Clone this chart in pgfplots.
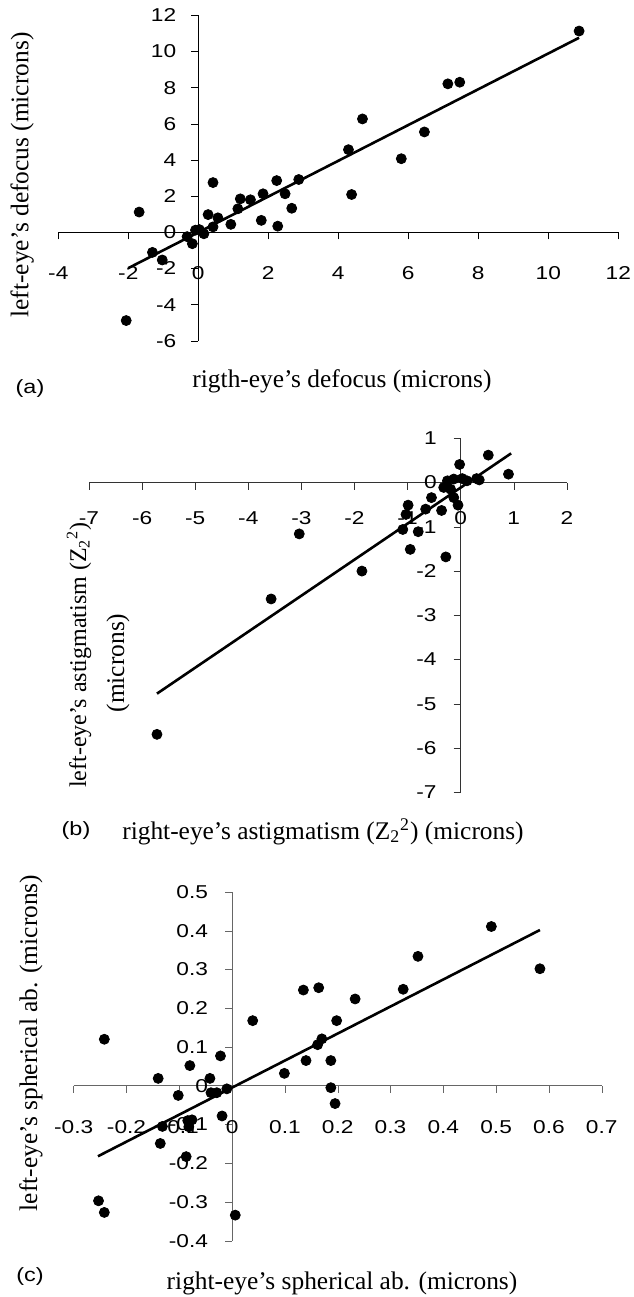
\documentclass[border=0pt]{standalone}
\usepackage{fontspec}
\setmainfont{Liberation Serif}
\newfontfamily\tickfont[FakeStretch=1.22]{Liberation Sans}
\usepackage{pgfplots}
\pgfplotsset{compat=1.18}

\pgfplotsset{
  eyeaxis/.style={
    scale only axis, axis lines=middle,
    axis line style={-, line width=0.5pt},
    tick align=outside, major tick length=3.5pt,
    hide obscured x ticks=false, hide obscured y ticks=false,
    /pgf/number format/assume math mode=true,
    tick label style={font=\tickfont\fontsize{9.3}{10}\selectfont},
    xticklabel style={anchor=center, yshift=-17pt},
    yticklabel style={anchor=east, xshift=-4pt},
    clip=false,
  },
  dots/.style={only marks, mark=*, mark size=2.5pt, black},
  fit/.style={no marks, black, line width=1.3pt},
}
\newcommand{\lab}{\fontsize{12.7}{14}\selectfont}
\newcommand{\tag}{\tickfont\fontsize{9.6}{11}\selectfont}

\begin{document}
\begin{tikzpicture}
\path[use as bounding box] (0,0) rectangle (316.5pt,-648.5pt);

% (a) defocus
\begin{axis}[eyeaxis, at={(29.15pt,-170.4pt)}, anchor=south west,
  width=280pt, height=162.75pt,
  xmin=-4, xmax=12, ymin=-6, ymax=12,
  xtick={-4,-2,0,2,4,6,8,10,12}, ytick={-6,-4,-2,0,2,4,6,8,10,12},
  axis line style={black}, tick style={black}]
\addplot[dots] coordinates {
 (10.88,11.13) (7.13,8.21) (7.47,8.30) (4.69,6.27) (6.46,5.55) (4.29,4.57)
 (5.80,4.07) (4.38,2.09) (0.42,2.75) (2.24,2.86) (2.87,2.92) (1.20,1.85)
 (1.49,1.80) (1.85,2.13) (2.48,2.13) (1.13,1.30) (2.67,1.33) (0.28,0.98)
 (0.56,0.80) (0.93,0.44) (1.80,0.66) (2.27,0.34) (0.42,0.30) (0.03,0.15)
 (-0.08,0.12) (0.16,-0.08) (-0.32,-0.24) (-0.17,-0.63) (-1.31,-1.11)
 (-1.03,-1.53) (-1.69,1.12) (-2.06,-4.88)};
\addplot[fit] coordinates {(-2.0,-1.98) (10.88,10.76)};
\end{axis}
\node[font=\lab, rotate=90, anchor=base] at (14.15pt,-87.5pt) {left-eye's defocus (microns)};
\node[font=\lab] at (171pt,-190.85pt) {rigth-eye's defocus (microns)};
\node[font=\tag] at (15pt,-194.2pt) {(a)};

% (b) astigmatism
\begin{axis}[eyeaxis, at={(44.5pt,-396.15pt)}, anchor=south west,
  width=238.95pt, height=177pt,
  xmin=-7, xmax=2, ymin=-7, ymax=1,
  xtick={-7,-6,-5,-4,-3,-2,-1,0,1,2}, ytick={-7,-6,-5,-4,-3,-2,-1,0,1},
  axis line style={black!80}, tick style={black!80},
  xticklabel style={yshift=2.8pt}, yticklabel style={xshift=-1pt}]
\addplot[dots] coordinates {
 (0.52,0.62) (0.90,0.19) (-0.02,0.41) (0.35,0.06) (0.30,0.09) (-0.25,0.04)
 (-0.13,0.08) (0.03,0.09) (0.12,0.04) (-0.32,-0.11) (-0.19,-0.15)
 (-0.55,-0.34) (-0.13,-0.34) (-0.05,-0.51) (-0.66,-0.60) (-0.36,-0.63)
 (-0.99,-0.51) (-1.03,-0.72) (-1.09,-1.06) (-0.80,-1.11) (-0.95,-1.51)
 (-0.28,-1.68) (-1.86,-2.00) (-3.04,-1.16) (-3.57,-2.63) (-5.72,-5.69)};
\addplot[fit] coordinates {(-5.72,-4.77) (0.95,0.66)};
\end{axis}
\node[font=\fontsize{12}{14}\selectfont, rotate=90, anchor=base] at (43pt,-327.5pt) {left-eye's astigmatism (Z\textsubscript{2}\textsuperscript{2})};
\node[font=\lab, rotate=90, anchor=base] at (62pt,-331.5pt) {(microns)};
\node[font=\lab] at (161.5pt,-415.85pt) {right-eye's astigmatism (Z\textsubscript{2}\textsuperscript{2}) (microns)};
\node[font=\tag] at (38pt,-415.5pt) {(b)};

% (c) spherical aberration
\begin{axis}[eyeaxis, at={(36.85pt,-620.35pt)}, anchor=south west,
  width=264pt, height=174.35pt,
  xmin=-0.3, xmax=0.7, ymin=-0.4, ymax=0.5,
  xtick={-0.3,-0.2,-0.1,0,0.1,0.2,0.3,0.4,0.5,0.6,0.7},
  ytick={-0.4,-0.3,-0.2,-0.1,0,0.1,0.2,0.3,0.4,0.5},
  axis line style={black!60}, tick style={black!60},
  yticklabel style={xshift=-1pt}]
\addplot[dots] coordinates {
 (0.491,0.411) (0.352,0.334) (0.583,0.302) (0.135,0.247) (0.164,0.253)
 (0.324,0.249) (0.233,0.224) (0.039,0.168) (0.198,0.168) (-0.242,0.120)
 (-0.022,0.077) (0.170,0.121) (0.162,0.106) (0.140,0.065) (0.187,0.065)
 (0.099,0.032) (-0.080,0.052) (-0.140,0.019) (-0.042,0.019) (0.187,-0.005)
 (0.195,-0.046) (-0.010,-0.008) (-0.029,-0.018) (-0.040,-0.018)
 (-0.102,-0.025) (-0.019,-0.078) (-0.076,-0.088) (-0.082,-0.106)
 (-0.084,-0.090) (-0.132,-0.105) (-0.136,-0.149) (-0.087,-0.183)
 (-0.253,-0.297) (-0.242,-0.327) (0.006,-0.334)};
\addplot[fit] coordinates {(-0.254,-0.182) (0.583,0.402)};
\end{axis}
\node[font=\lab, rotate=90, anchor=base] at (18.5pt,-521.5pt) {left-eye's spherical ab. (microns)};
\node[font=\lab] at (171pt,-641.5pt) {right-eye's spherical ab. (microns)};
\node[font=\tag] at (15pt,-638.35pt) {(c)};
\end{tikzpicture}
\end{document}
